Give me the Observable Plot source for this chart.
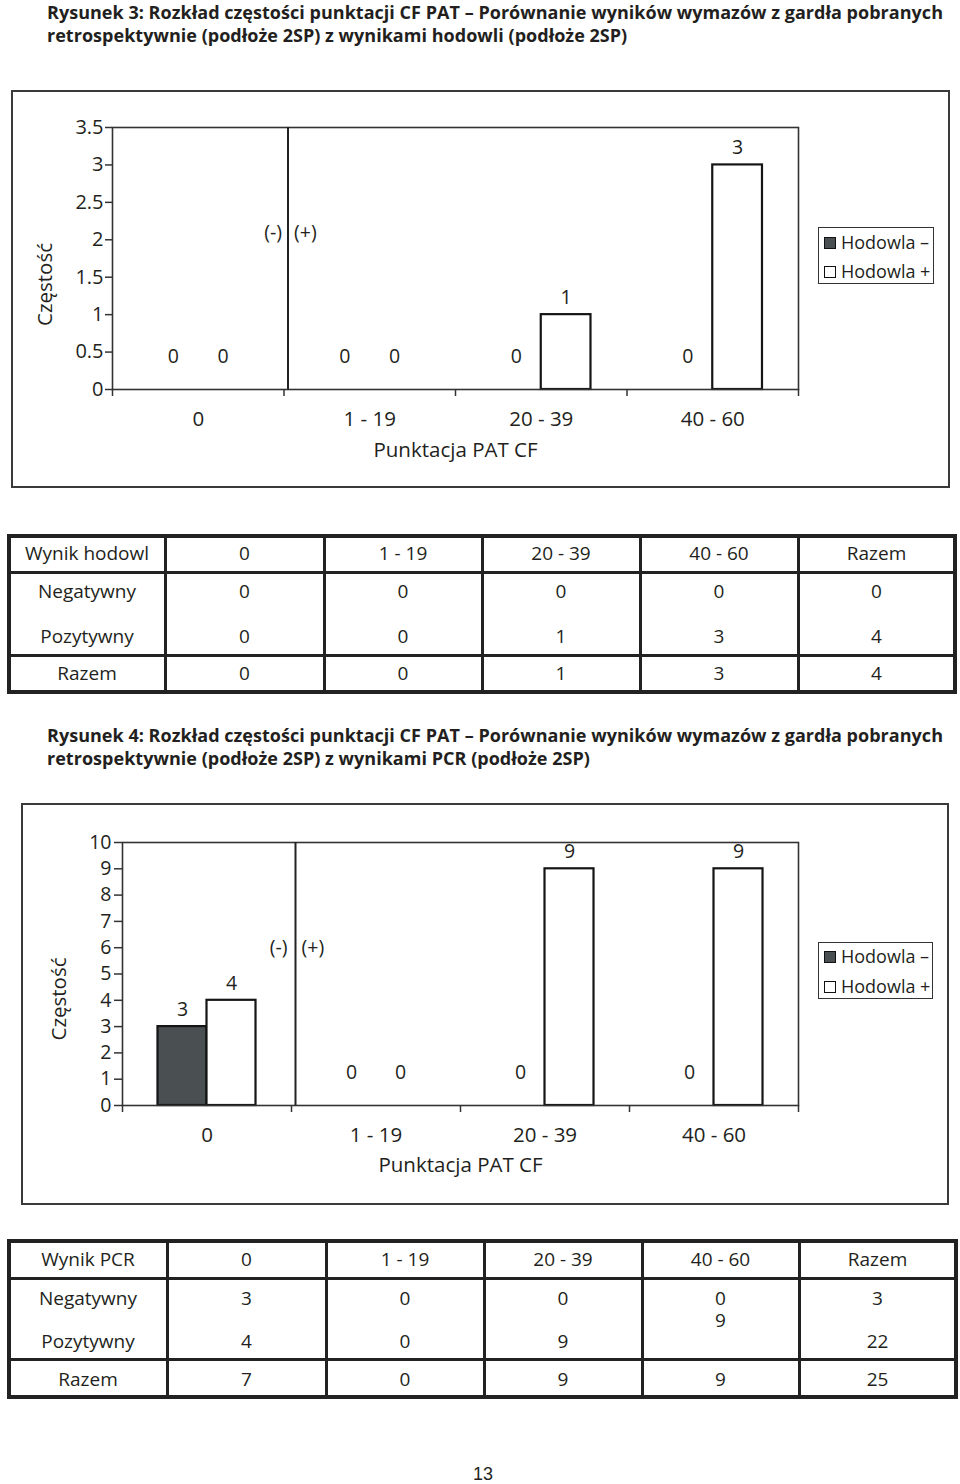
<!DOCTYPE html>
<html><head><meta charset="utf-8">
<script src="https://cdn.jsdelivr.net/npm/d3@7"></script>
<script src="https://cdn.jsdelivr.net/npm/@observablehq/plot@0.6"></script>
<style>
body{margin:0;background:#fff;}
#page{position:relative;width:960px;height:1484px;overflow:hidden;font-family:'Open Sans',sans-serif;color:#231f20;}
.title{position:absolute;left:47px;font-weight:700;font-size:18px;line-height:23px;white-space:nowrap;}
.title span{display:inline-block;}
.box{position:absolute;border:2px solid #3a3a3a;box-sizing:border-box;pointer-events:none;}
.legend{position:absolute;border:1.5px solid #333;box-sizing:border-box;overflow:hidden;background:#fff;font-size:18px;}
.legend .item{position:absolute;left:5px;height:20px;line-height:20px;white-space:nowrap;}
.legend .sw{position:absolute;left:0;top:4px;width:12px;height:12px;box-sizing:border-box;border:1.5px solid #111;}
.legend .lt{position:absolute;left:17px;top:-1px;}
.plotsvg{position:absolute;left:0;}
.tline{position:absolute;background:#222;}
.tcell{position:absolute;font-size:19px;line-height:20px;text-align:center;white-space:pre;}
.pnum{position:absolute;left:0;width:966px;text-align:center;top:1464px;font-family:'Liberation Sans',Arial,sans-serif;font-size:18px;}
</style></head>
<body><div id="page"></div>
<script>
// ---------- data ----------
const categories = ["0", "1 - 19", "20 - 39", "40 - 60"];
const seriesLabels = ["Hodowla –", "Hodowla +"];
// Rysunek 3 (hodowla)
const hodowlaNeg3 = [0, 0, 0, 0];
const hodowlaPos3 = [0, 0, 1, 3];
const yTicks3 = [0, 0.5, 1, 1.5, 2, 2.5, 3, 3.5];
// Rysunek 4 (PCR)
const hodowlaNeg4 = [3, 0, 0, 0];
const hodowlaPos4 = [4, 0, 9, 9];
const yTicks4 = [0, 1, 2, 3, 4, 5, 6, 7, 8, 9, 10];
const xTitle = "Punktacja PAT CF";
const yTitle = "Częstość";
const dividerLabels = ["(-)", "(+)"];
// tables
const table1Header = ["Wynik hodowl", "0", "1 - 19", "20 - 39", "40 - 60", "Razem"];
const table1Neg = ["Negatywny", "0", "0", "0", "0", "0"];
const table1Pos = ["Pozytywny", "0", "0", "1", "3", "4"];
const table1Tot = ["Razem", "0", "0", "1", "3", "4"];
const table2Header = ["Wynik PCR", "0", "1 - 19", "20 - 39", "40 - 60", "Razem"];
const table2Neg = ["Negatywny", "3", "0", "0", "0", "3"];
const table2Pos = ["Pozytywny", "4", "0", "9", "9", "22"];
const table2Tot = ["Razem", "7", "0", "9", "9", "25"];
const title3 = ["Rysunek 3: Rozkład częstości punktacji CF PAT – Porównanie wyników wymazów z gardła pobranych",
                "retrospektywnie (podłoże 2SP) z wynikami hodowli (podłoże 2SP)"];
const title4 = ["Rysunek 4: Rozkład częstości punktacji CF PAT – Porównanie wyników wymazów z gardła pobranych",
                "retrospektywnie (podłoże 2SP) z wynikami PCR (podłoże 2SP)"];
const pageNumber = "13";

// ---------- styles ----------
const DARK = "#4a4f51";
const INK = "#231f20";
const page = document.getElementById("page");

function el(tag, cls, css, parent = page) {
  const e = document.createElement(tag);
  if (cls) e.className = cls;
  Object.assign(e.style, css || {});
  parent.appendChild(e);
  return e;
}

function addTitle(lines, top, target) {
  const t = el("div", "title", {top: top + "px"});
  const spans = lines.map((l, k) => {
    const s = el("span", null, {}, t);
    s.textContent = l;
    if (k < lines.length - 1) el("br", null, {}, t);
    return s;
  });
  const fit = () => {
    t.style.letterSpacing = "0px";
    const w = spans[0].getBoundingClientRect().width;
    const n = lines[0].length;
    t.style.letterSpacing = ((target - w) / n) + "px";
  };
  fit();
  if (document.fonts) document.fonts.ready.then(fit);
}

function makeChart(o) {
  const rows = categories.flatMap((c, i) => [{i, s: 0, v: o.neg[i]}, {i, s: 1, v: o.pos[i]}]);
  const bw = 0.29;
  const x1 = d => d.i + 0.5 - (d.s === 0 ? bw : 0);
  const x2 = d => x1(d) + bw;
  const xc = d => x1(d) + bw / 2;
  const plotH = o.height - o.mt - o.mb;
  const boundaries = d3.range(0, categories.length + 1);
  const centers = categories.map((c, i) => i + 0.5);
  const svg = Plot.plot({
    width: 960, height: o.height,
    marginTop: o.mt, marginBottom: o.mb, marginLeft: o.ml, marginRight: o.mr,
    x: {type: "linear", domain: [0, categories.length], label: null},
    y: {domain: [0, o.yMax], label: null},
    style: {fontFamily: "'Open Sans', sans-serif", fontSize: "19px", color: INK, background: "transparent", overflow: "visible"},
    marks: [
      Plot.rectY(rows.filter(d => d.s === 0 && d.v > 0), {x1, x2, y: "v", fill: DARK, stroke: "#151515", strokeWidth: 2.2}),
      Plot.rectY(rows.filter(d => d.s === 1 && d.v > 0), {x1, x2, y: "v", fill: "white", stroke: "#151515", strokeWidth: 2.2}),
      Plot.frame({stroke: "#333", strokeWidth: 1.6}),
      Plot.ruleX([1], {dx: 4, stroke: "#222", strokeWidth: 2}),
      Plot.axisY({ticks: o.yTicks, tickSize: o.yTickSize, tickPadding: o.yTickPad, tickFormat: d => String(d), label: null, fontSize: o.yFont, stroke: "#333", strokeWidth: 1.5, color: INK}),
      Plot.axisX({ticks: boundaries, tickSize: 7, tickFormat: () => "", label: null, stroke: "#333", strokeWidth: 1.5}),
      Plot.axisX({ticks: centers, tickSize: 0, tickPadding: o.catPad, tickFormat: d => categories[Math.round(d - 0.5)], label: null, fontSize: 20.5, color: INK}),
      Plot.text(rows.filter(d => d.v > 0), {x: xc, y: "v", text: d => String(d.v), dy: -17, fontSize: 19.5, fill: INK}),
      Plot.text(rows.filter(d => d.v === 0), {x: xc, y: "v", text: d => String(d.v), dy: -33, fontSize: 19.5, fill: INK}),
      Plot.text([1], {x: d => d, text: () => dividerLabels[0], frameAnchor: "top", lineAnchor: "middle", dy: 0.4 * plotH, dx: o.annDx[0], textAnchor: "end", fontSize: 19.5, fill: INK}),
      Plot.text([1], {x: d => d, text: () => dividerLabels[1], frameAnchor: "top", lineAnchor: "middle", dy: 0.4 * plotH, dx: o.annDx[1], textAnchor: "start", fontSize: 19.5, fill: INK}),
      Plot.text([xTitle], {frameAnchor: "bottom", lineAnchor: "middle", textAnchor: "middle", dy: o.xTitleDy, fontSize: 20.5, fill: INK}),
      Plot.text([yTitle], {frameAnchor: "left", lineAnchor: "middle", textAnchor: "middle", rotate: -90, dx: o.yTitleDx, dy: o.yTitleDy, fontSize: 20.5, fill: INK})
    ]
  });
  svg.classList.add("plotsvg");
  svg.style.top = o.top + "px";
  page.appendChild(svg);
  // outer chart box
  el("div", "box", {left: o.box[0] + "px", top: o.box[1] + "px", width: (o.box[2] - o.box[0]) + "px", height: (o.box[3] - o.box[1]) + "px"});
  // legend
  const lg = el("div", "legend", {left: o.legend[0] + "px", top: o.legend[1] + "px", width: (o.legend[2] - o.legend[0]) + "px", height: (o.legend[3] - o.legend[1]) + "px"});
  seriesLabels.forEach((lab, k) => {
    const it = el("div", "item", {top: (o.legendItemTops[k]) + "px"}, lg);
    el("span", "sw", {background: k === 0 ? DARK : "#fff"}, it);
    const tx = el("span", "lt", {}, it);
    tx.textContent = lab;
  });
}

function makeTable(o) {
  const [L, T, R, B] = o.rect;
  el("div", null, {position: "absolute", left: L + "px", top: T + "px", width: (R - L) + "px", height: (B - T) + "px", border: "4px solid #222", boxSizing: "border-box"});
  o.hlines.forEach(y => el("div", "tline", {left: L + "px", top: (y - 1.5) + "px", width: (R - L) + "px", height: "3px"}));
  o.vlines.forEach(x => el("div", "tline", {left: (x - 1.5) + "px", top: T + "px", width: "3px", height: (B - T) + "px"}));
  const edges = [L + 2, ...o.vlines, R - 2];
  o.rows.forEach((row, r) => {
    row.forEach((txt, c) => {
      const cx = (edges[c] + edges[c + 1]) / 2;
      const cy = o.textYs[r];
      // a cell whose value is printed tucked right under the row above (as in the original layout)
      if (o.stack && o.stack.r === r && o.stack.c === c) return;
      let content = txt, lh = 20, h = 20;
      if (o.stack && o.stack.r === r + 1 && o.stack.c === c) {
        content = txt + "\n" + o.rows[r + 1][c];
        lh = o.stack.gap; h = 2 * lh;
        const d = el("div", "tcell", {left: (cx - 80) + "px", width: "160px", top: (cy - lh / 2) + "px", lineHeight: lh + "px", height: h + "px"});
        d.textContent = content;
        return;
      }
      const d = el("div", "tcell", {left: (cx - 80) + "px", width: "160px", top: (cy - 10) + "px", height: "20px"});
      d.textContent = content;
    });
  });
}

// ---------- build page ----------
addTitle(title3, 0.5, 896);
makeChart({
  neg: hodowlaNeg3, pos: hodowlaPos3, yTicks: yTicks3, yMax: 3.5,
  top: 90, height: 397, mt: 37, mb: 98, ml: 112, mr: 162,
  yFont: 20, yTickSize: 7, yTickPad: 2, catPad: 22,
  annDx: [-2, 10], xTitleDy: 61, yTitleDx: -67, yTitleDy: 26,
  box: [11, 90, 950, 488], legend: [818, 227, 934, 284], legendItemTops: [5, 34]
});
makeTable({
  rect: [7, 534, 957, 694], hlines: [572, 655], vlines: [165, 324, 482, 640, 798],
  textYs: [553, 591, 636, 673], rows: [table1Header, table1Neg, table1Pos, table1Tot]
});
addTitle(title4, 723.5, 896);
makeChart({
  neg: hodowlaNeg4, pos: hodowlaPos4, yTicks: yTicks4, yMax: 10,
  top: 803, height: 401, mt: 39, mb: 99, ml: 122, mr: 162,
  yFont: 19.5, yTickSize: 8, yTickPad: 3, catPad: 22,
  annDx: [-4, 10], xTitleDy: 60, yTitleDx: -63, yTitleDy: 25,
  box: [21, 803, 949, 1205], legend: [818, 942, 933, 999], legendItemTops: [4, 34]
});
makeTable({
  rect: [7, 1239, 958, 1399], hlines: [1278, 1359], vlines: [167, 326, 484, 642, 799],
  textYs: [1259, 1298, 1341, 1379], rows: [table2Header, table2Neg, table2Pos, table2Tot],
  stack: {r: 2, c: 4, gap: 22}
});
const pn = el("div", "pnum", {});
pn.textContent = pageNumber;
</script>
</body></html>
